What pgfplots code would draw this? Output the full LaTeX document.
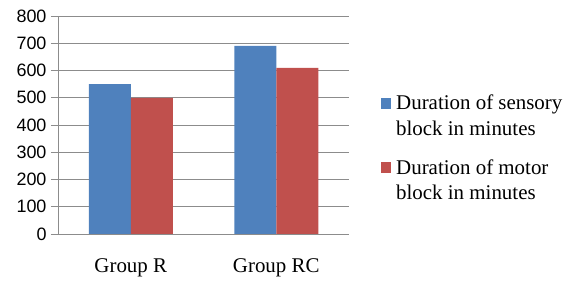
\documentclass[border=0pt]{standalone}
\usepackage{pgfplots}
\pgfplotsset{compat=1.18}
\usepackage{fontspec}
\setmainfont{Liberation Serif}
\newfontfamily\ticksans{Liberation Sans}
\definecolor{xlblue}{HTML}{4F81BD}
\definecolor{xlred}{HTML}{C0504D}
\definecolor{gridgray}{HTML}{8C8C8C}
\begin{document}
\begin{tikzpicture}
\useasboundingbox (-58bp,-49bp) rectangle (511bp,234bp);
\begin{axis}[
  scale only axis,
  width=291bp, height=218bp,
  xmin=-0.5, xmax=1.5,
  ymin=0, ymax=800,
  ytick={0,100,...,800},
  ymajorgrids,
  grid style={gridgray, line width=0.8bp},
  axis x line*=bottom,
  axis y line*=left,
  axis line style={gridgray, line width=0.8bp},
  ytick style={gridgray, line width=0.8bp},
  tick align=outside,
  major tick length=7bp,
  xtick={0,1},
  xticklabels={Group R, Group RC},
  x tick style={draw=none},
  extra x ticks={-0.5,0.5,1.5},
  extra x tick labels={},
  extra x tick style={grid=none, tick style={draw=gridgray, line width=0.8bp}, major tick length=7bp},
  xticklabel style={font=\fontsize{21}{24}\selectfont, yshift=-14bp},
  yticklabel style={font=\ticksans\fontsize{18}{21}\selectfont, xshift=-1bp},
  /pgf/number format/assume math mode=true,
  ybar=0pt,
  bar width=42bp,
  legend style={
    draw=none, fill=none,
    at={(axis description cs:1,1)}, anchor=north west,
    xshift=32bp, yshift=-77bp,
    font=\fontsize{21}{26}\selectfont,
    cells={anchor=west, align=left},
    row sep=18bp,
    inner sep=0pt,
    /tikz/every odd column/.style={column sep=3bp},
  },
  legend image code/.code={\fill[#1] (0bp,7bp) rectangle (10bp,18bp);},
]
\addplot[fill=xlblue, draw=none] coordinates {(0,550) (1,690)};
\addplot[fill=xlred, draw=none] coordinates {(0,500) (1,610)};
\legend{Duration of sensory\\block in minutes, Duration of motor\\block in minutes}
\end{axis}
\end{tikzpicture}
\end{document}
